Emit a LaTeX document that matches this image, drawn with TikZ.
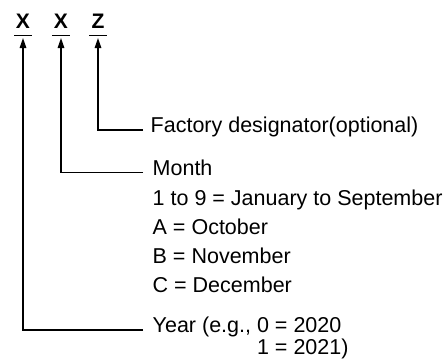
\documentclass[tikz,border=0pt]{standalone}
\usepackage{fontspec}
\setmainfont{Liberation Sans}
\usetikzlibrary{arrows.meta}
\begin{document}
\begin{tikzpicture}[x=1pt,y=-1pt,
  line width=1.4pt,
  letter/.style={font=\fontsize{21}{24}\selectfont\bfseries, inner sep=0pt, anchor=base},
  lbl/.style={font=\fontsize{21.5}{24}\selectfont, inner sep=0pt, anchor=mid west},
  pointer/.style={-{Triangle[length=10pt,width=6.5pt]}},
  uline/.style={line width=1.4pt}]
\useasboundingbox (0,0) rectangle (445,360);
% letters
\node[letter] (l1) at (23,28) {X};
\node[letter] (l2) at (61,28) {X};
\node[letter] (l3) at (98,28) {Z};
% underlines
\draw[uline] ([yshift=-7.7pt]l1.base) ++(-9,0) -- ++(18,0);
\draw[uline] ([yshift=-7.7pt]l2.base) ++(-9,0) -- ++(18,0);
\draw[uline] ([yshift=-7.7pt]l3.base) ++(-9,0) -- ++(18,0);
% arrow tips
\coordinate (t1) at (23,38);
\coordinate (t2) at (61,38);
\coordinate (t3) at (98,38);
% labels
\node[lbl] (fac) at (150,130) {Factory designator(optional)};
\node[lbl] (mon) at (152,172.5) {Month};
\node[lbl] (m1) at (152,203) {1 to 9 = January to September};
\node[lbl] (m2) at (152,232) {A = October};
\node[lbl] (m3) at (152,260.5) {B = November};
\node[lbl] (m4) at (152,290) {C = December};
\node[lbl] (yr) at (152,330) {Year (e.g., 0 = 2020};
\node[lbl] (yr2) at (152,352) {\phantom{Year (e.g., }1 = 2021)};
% connectors
\coordinate (e3) at (143,130);
\coordinate (e2) at (143,172.5);
\coordinate (e1) at (143,330);
\draw[pointer] (e3) -| (t3);
\draw[pointer] (e2) -| (t2);
\draw[pointer] (e1) -| (t1);
\end{tikzpicture}
\end{document}
